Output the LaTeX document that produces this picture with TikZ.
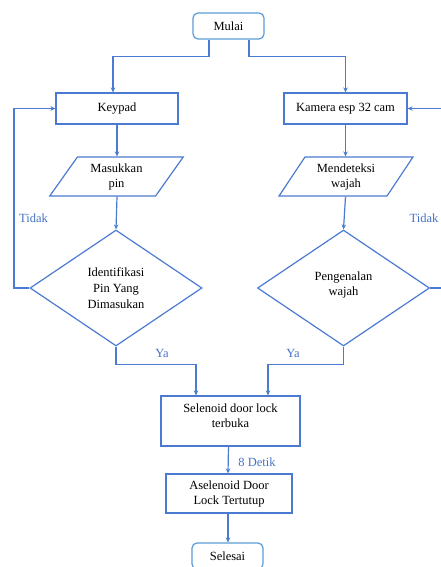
\documentclass[tikz,border=0pt]{standalone}
\usepackage{fontspec}
\setmainfont{Liberation Serif}
\usetikzlibrary{shapes.geometric,arrows.meta}
\definecolor{lineblue}{HTML}{4A7BD0}
\definecolor{termblue}{HTML}{5B9BD5}
\definecolor{labelblue}{HTML}{4472C4}
\begin{document}
\begin{tikzpicture}[x=1pt,y=-1pt,
  every node/.style={font=\fontsize{12.5}{15}\selectfont, align=center, inner sep=0pt},
  base/.style={draw=lineblue, line width=1.2pt},
  term/.style={base, draw=termblue, rounded corners=5pt, minimum width=71pt, minimum height=26pt},
  procbox/.style={base, rectangle},
  iobox/.style={base, trapezium, trapezium left angle=55, trapezium right angle=125,
    trapezium stretches=true, minimum width=134pt, minimum height=39pt},
  decbox/.style={base, diamond, minimum width=172pt, minimum height=116pt},
  arr/.style={draw=lineblue, line width=1.2pt, -{Stealth[length=5pt,width=4.5pt]}},
  lbl/.style={text=labelblue}]
\useasboundingbox (0,0) rectangle (440,567);

\node[term] (mulai) at (228.5,26) {Mulai};
\node[procbox, minimum width=122pt, minimum height=31pt] (keypad) at (117,108.5) {Keypad};
\node[procbox, minimum width=123pt, minimum height=31pt] (kamera) at (345.5,108.5) {Kamera esp 32 cam};
\node[iobox] (pin) at (116.5,176.5) {Masukkan\\pin};
\node[iobox] (deteksi) at (346,176.5) {Mendeteksi\\wajah};
\node[decbox] (d1) at (116,288) {Identifikasi\\[1pt]Pin Yang\\[1pt]Dimasukan};
\node[decbox] (d2) at (343.5,288) {Pengenalan\\wajah\\[-7pt]};
\node[procbox, minimum width=139pt, minimum height=50pt] (sel) at (230.5,421) {Selenoid door lock\\terbuka\\[-4pt]};
\node[procbox, minimum width=126pt, minimum height=39pt] (tutup) at (229,493.5) {Aselenoid Door\\Lock Tertutup};
\node[term] (selesai) at (227.5,556) {Selesai};

\coordinate (fl) at (14,288);
\coordinate (fr) at (448,288);

\draw[arr] ([xshift=-19.5pt]mulai.south) -- ++(0,17) -| ([xshift=-4pt]keypad.north);
\draw[arr] ([xshift=20.5pt]mulai.south) -- ++(0,17) -| (kamera.north);
\draw[arr] (keypad.south) -- (keypad.south |- pin.north);
\draw[arr] (kamera.south) -- (kamera.south |- deteksi.north);
\draw[arr] (pin.south -| keypad.south) -- (d1.north);
\draw[arr] (deteksi.south -| kamera.south) -- (d2.north);
\draw[arr] (d1.west) -- (fl) |- (keypad.west);
\draw[arr] (d2.east) -- (fr) |- (kamera.east);
\draw[arr] (d1.south) -- ++(0,18) -| ([xshift=-34.5pt]sel.north);
\draw[arr] (d2.south) -- ++(0,18) -| ([xshift=37.5pt]sel.north);
\draw[arr] ([xshift=-2pt]sel.south) -- ([xshift=-1pt]tutup.north);
\draw[arr] ([xshift=-1pt]tutup.south) -- ([xshift=0.5pt]selesai.north);

\node[lbl] (tidak1) at (33.5,218) {Tidak};
\node[lbl, anchor=west] (tidak2) at (409.5,218) {Tidak};
\node[lbl] (ya1) at (162,353) {Ya};
\node[lbl] (ya2) at (293,353) {Ya};
\node[lbl] (detik) at (257,462) {8 Detik};
\end{tikzpicture}
\end{document}
